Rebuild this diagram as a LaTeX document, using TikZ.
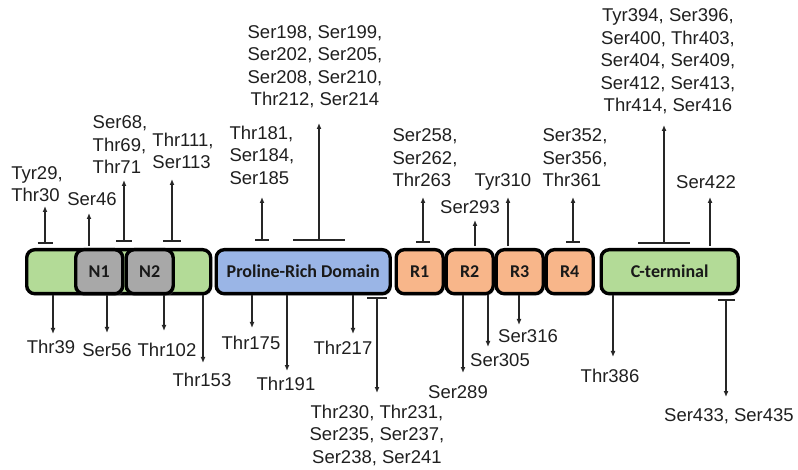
\documentclass[tikz,border=0pt]{standalone}
\usepackage{fontspec}
\setmainfont{Liberation Sans}
\newfontfamily\boxfont{Carlito}
\usetikzlibrary{arrows.meta,shadows}
\definecolor{dgreen}{HTML}{B3DB97}
\definecolor{dgray}{HTML}{A8A8A8}
\definecolor{dblue}{HTML}{9AB5E6}
\definecolor{dorange}{HTML}{F8B68A}
\begin{document}
\begin{tikzpicture}[x=1pt,y=-1pt,
  lbl/.style={inner sep=0pt, align=center, font=\fontsize{18.5}{22.5}\selectfont, text=black!88},
  lbll/.style={lbl, align=left},
  dom/.style={draw=black, line width=3.4pt, rounded corners=8pt, minimum height=44pt,
    inner sep=0pt, anchor=north west, text=black!90,
    font=\boxfont\bfseries\fontsize{18}{21}\selectfont,
    drop shadow={shadow xshift=1.5pt, shadow yshift=-2pt, opacity=0.3}},
  arr/.style={line width=1.3pt, draw=black!85, -{Latex[length=6pt,width=5pt]}},
  tbar/.style={line width=1.3pt, draw=black!85}]
\useasboundingbox (0,0) rectangle (798,470);

% domains
\node[dom, fill=dgreen, minimum width=184pt] (nterm) at (25,248) {};
\node[dom, fill=dgray, minimum width=47pt] (n1) at (74,248) {N1};
\node[dom, fill=dgray, minimum width=47pt] (n2) at (124.5,248) {N2};
\node[dom, fill=dblue, minimum width=174pt] (prd) at (214.5,248) {Proline-Rich Domain};
\node[dom, fill=dorange, minimum width=47pt] (r1) at (394.5,248) {R1};
\node[dom, fill=dorange, minimum width=47pt] (r2) at (444.5,248) {R2};
\node[dom, fill=dorange, minimum width=47pt] (r3) at (494.5,248) {R3};
\node[dom, fill=dorange, minimum width=47pt] (r4) at (544.5,248) {R4};
\node[dom, fill=dgreen, minimum width=137pt] (cterm) at (599.5,248) {C-terminal};

% top labels
\node[lbll] (t1) at (37,184) {Tyr29,\\Thr30};
\node[lbl] (t2) at (92,199) {Ser46};
\node[lbll] (t3) at (120,145) {Ser68,\\Thr69,\\Thr71};
\node[lbll] (t4) at (183,151) {Thr111,\\Ser113};
\node[lbll] (t5) at (262,155) {Thr181,\\Ser184,\\Ser185};
\node[lbl] (t6) at (315,66.5) {Ser198, Ser199,\\Ser202, Ser205,\\Ser208, Ser210,\\Thr212, Ser214};
\node[lbll] (t7) at (425,158) {Ser258,\\Ser262,\\Thr263};
\node[lbl] (t8) at (470,207) {Ser293};
\node[lbl] (t9) at (503,182) {Tyr310};
\node[lbll] (t10) at (575,158) {Ser352,\\Ser356,\\Thr361};
\node[lbl] (t11) at (668,61.6) {Tyr394, Ser396,\\Ser400, Thr403,\\Ser404, Ser409,\\Ser412, Ser413,\\Thr414, Ser416};
\node[lbl] (t12) at (706,182) {Ser422};

% bottom labels
\node[lbl] (u1) at (51,347) {Thr39};
\node[lbl] (u2) at (107,350) {Ser56};
\node[lbl] (u3) at (167,350) {Thr102};
\node[lbl] (u4) at (202,380) {Thr153};
\node[lbl] (u5) at (251,343) {Thr175};
\node[lbl] (u6) at (286,384) {Thr191};
\node[lbl] (u7) at (343,348) {Thr217};
\node[lbl] (u8) at (377,435.3) {Thr230, Thr231,\\Ser235, Ser237,\\Ser238, Ser241};
\node[lbl] (u9) at (458,392) {Ser289};
\node[lbl] (u10) at (500,360) {Ser305};
\node[lbl] (u11) at (528,336) {Ser316};
\node[lbl] (u12) at (610,376) {Thr386};
\node[lbl, anchor=west] (u13) at (664,416) {Ser433, Ser435};

% top connector coordinates
\coordinate (a1s) at (45,243);  \coordinate (a1t) at (45,206);
\coordinate (a2s) at (89,246);  \coordinate (a2t) at (89,213);
\coordinate (a3s) at (124,241); \coordinate (a3t) at (124,180);
\coordinate (a4s) at (172,241); \coordinate (a4t) at (172,179);
\coordinate (a5s) at (262,240); \coordinate (a5t) at (262,197);
\coordinate (a6s) at (319,240); \coordinate (a6t) at (319,123);
\coordinate (a7s) at (423,242); \coordinate (a7t) at (423,197);
\coordinate (a8s) at (475,246); \coordinate (a8t) at (475,220);
\coordinate (a9s) at (508,246); \coordinate (a9t) at (508,197);
\coordinate (a10s) at (573,242); \coordinate (a10t) at (573,197);
\coordinate (a11s) at (664,243); \coordinate (a11t) at (664,125);
\coordinate (a12s) at (710,246); \coordinate (a12t) at (710,197);

% bottom connector coordinates
\coordinate (b1s) at (53,295);  \coordinate (b1t) at (53,334);
\coordinate (b2s) at (107,295); \coordinate (b2t) at (107,333);
\coordinate (b3s) at (164,295); \coordinate (b3t) at (164,331);
\coordinate (b4s) at (203,295); \coordinate (b4t) at (203,363);
\coordinate (b5s) at (252,295); \coordinate (b5t) at (252,328);
\coordinate (b6s) at (287,295); \coordinate (b6t) at (287,371);
\coordinate (b7s) at (353,295); \coordinate (b7t) at (353,334);
\coordinate (b8s) at (377,298); \coordinate (b8t) at (377,393);
\coordinate (b9s) at (463,295); \coordinate (b9t) at (463,373);
\coordinate (b10s) at (488,295); \coordinate (b10t) at (488,347);
\coordinate (b11s) at (519,295); \coordinate (b11t) at (519,325);
\coordinate (b12s) at (613,295); \coordinate (b12t) at (613,357);
\coordinate (b13s) at (726,300); \coordinate (b13t) at (726,397);

% arrows
\foreach \i in {1,...,12} {\draw[arr] (a\i s) -- (a\i t);}
\foreach \i in {1,...,13} {\draw[arr] (b\i s) -- (b\i t);}

% T bars
\draw[tbar] ([xshift=-7.5pt]a1s) -- ([xshift=7.5pt]a1s);
\draw[tbar] ([xshift=-8pt]a3s) -- ([xshift=7.5pt]a3s);
\draw[tbar] ([xshift=-9pt]a4s) -- ([xshift=9pt]a4s);
\draw[tbar] ([xshift=-7pt]a5s) -- ([xshift=7pt]a5s);
\draw[tbar] ([xshift=-26pt]a6s) -- ([xshift=26pt]a6s);
\draw[tbar] ([xshift=-7pt]a7s) -- ([xshift=7pt]a7s);
\draw[tbar] ([xshift=-7pt]a10s) -- ([xshift=7pt]a10s);
\draw[tbar] ([xshift=-26pt]a11s) -- ([xshift=26pt]a11s);
\draw[tbar] ([xshift=-10pt]b8s) -- ([xshift=10pt]b8s);
\draw[tbar] ([xshift=-8.5pt]b13s) -- ([xshift=8.5pt]b13s);
\end{tikzpicture}
\end{document}
